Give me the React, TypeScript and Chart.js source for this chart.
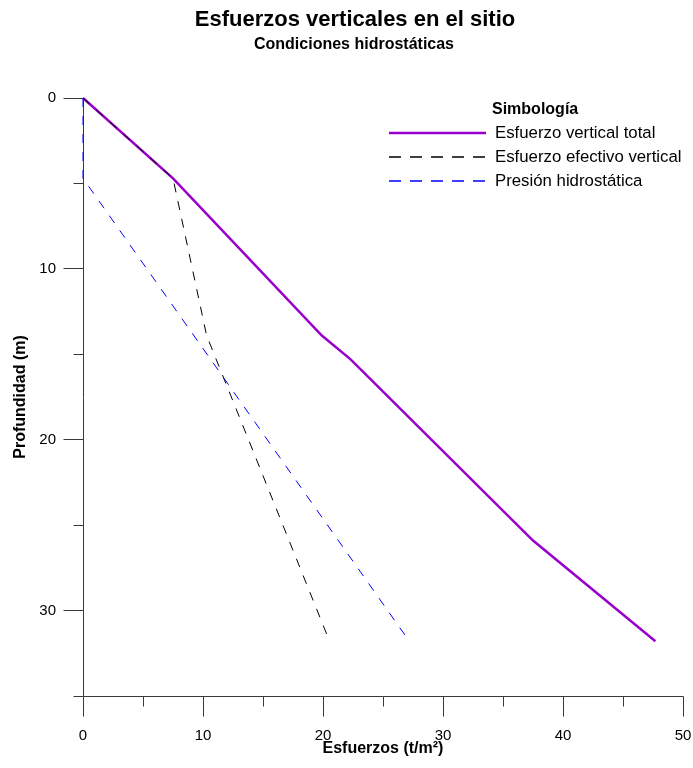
import React, { useEffect, useRef } from 'react';
import { Chart, registerables } from 'chart.js';

Chart.register(...registerables);

const TITLE = 'Esfuerzos verticales en el sitio';
const SUBTITLE = 'Condiciones hidrostáticas';
const X_TITLE = 'Esfuerzos (t/m²)';
const Y_TITLE = 'Profundidad (m)';
const LEGEND_TITLE = 'Simbología';
const SERIES_NAMES = ['Esfuerzo vertical total', 'Esfuerzo efectivo vertical', 'Presión hidrostática'];

// depth (m) and stress (t/m²)
const TOTAL_DEPTH = [0, 4.7, 13.9, 15.3, 25.9, 31.8];
const TOTAL_STRESS = [0, 7.5, 19.9, 22.3, 37.5, 47.7];
const EFFECTIVE_DEPTH = [0, 4.7, 13.9, 31.8];
const EFFECTIVE_STRESS = [0, 7.5, 10.3, 20.55];
const HYDRO_DEPTH = [0, 4.7, 31.8];
const HYDRO_STRESS = [0, 0, 27.2];

const X_MAJOR = [0, 10, 20, 30, 40, 50];
const X_MINOR = [5, 15, 25, 35, 45];
const Y_MAJOR = [0, 10, 20, 30];
const Y_MINOR = [5, 15, 25, 35];

const FONT = "'Liberation Sans', Arial, sans-serif";
const PURPLE = 'rgb(153,0,204)';
const BLUE = 'rgb(0,0,255)';
const BLACK = 'rgb(0,0,0)';
const AXIS_COLOR = '#3a3a3a';
const DASH = [9, 9];
const LEGEND_DASH = [12, 9];

const toPoints = (xs: number[], ys: number[]) => xs.map((v, i) => ({ x: v, y: ys[i] }));

const crisp = (p: number) => Math.floor(p) + 0.5;

const decorPlugin = {
  id: 'decor',
  beforeDatasetsDraw(chart: any) {
    const { ctx, chartArea, scales } = chart;
    const xs = scales.x;
    const ys = scales.y;
    const left = crisp(chartArea.left);
    const bottom = crisp(chartArea.bottom);
    ctx.save();
    ctx.strokeStyle = AXIS_COLOR;
    ctx.lineWidth = 1;
    ctx.beginPath();
    ctx.moveTo(left, crisp(ys.getPixelForValue(0)));
    ctx.lineTo(left, bottom);
    ctx.moveTo(left, bottom);
    ctx.lineTo(crisp(xs.getPixelForValue(50)), bottom);
    X_MAJOR.forEach((v) => {
      const px = crisp(xs.getPixelForValue(v));
      ctx.moveTo(px, bottom);
      ctx.lineTo(px, bottom + 20);
    });
    X_MINOR.forEach((v) => {
      const px = crisp(xs.getPixelForValue(v));
      ctx.moveTo(px, bottom);
      ctx.lineTo(px, bottom + 10);
    });
    Y_MAJOR.forEach((v) => {
      const py = crisp(ys.getPixelForValue(v));
      ctx.moveTo(left - 20, py);
      ctx.lineTo(left, py);
    });
    Y_MINOR.forEach((v) => {
      const py = crisp(ys.getPixelForValue(v));
      ctx.moveTo(left - 10, py);
      ctx.lineTo(left, py);
    });
    ctx.stroke();
    ctx.restore();
  },
  afterDraw(chart: any) {
    const { ctx, chartArea } = chart;
    ctx.save();
    ctx.fillStyle = '#000';
    ctx.textAlign = 'center';
    ctx.textBaseline = 'middle';
    ctx.font = `bold 22px ${FONT}`;
    ctx.fillText(TITLE, 355, 20);
    ctx.font = `bold 16px ${FONT}`;
    ctx.fillText(SUBTITLE, 354, 45);

    ctx.font = `bold 16px ${FONT}`;
    ctx.fillText(X_TITLE, (chartArea.left + chartArea.right) / 2, 749);
    ctx.save();
    ctx.translate(21, (chartArea.top + chartArea.bottom) / 2);
    ctx.rotate(-Math.PI / 2);
    ctx.fillText(Y_TITLE, 0, 0);
    ctx.restore();

    ctx.textAlign = 'left';
    ctx.font = `bold 16px ${FONT}`;
    ctx.fillText(LEGEND_TITLE, 492, 110);
    ctx.font = `16.8px ${FONT}`;
    const rows = [
      { color: PURPLE, width: 2.5, dash: [] as number[] },
      { color: BLACK, width: 1.5, dash: LEGEND_DASH },
      { color: BLUE, width: 1.5, dash: LEGEND_DASH },
    ];
    rows.forEach((r, i) => {
      const yy = 133 + i * 24;
      ctx.save();
      ctx.strokeStyle = r.color;
      ctx.lineWidth = r.width;
      ctx.setLineDash(r.dash);
      ctx.beginPath();
      ctx.moveTo(389, yy);
      ctx.lineTo(486, yy);
      ctx.stroke();
      ctx.restore();
      ctx.fillText(SERIES_NAMES[i], 495, yy);
    });
    ctx.restore();
  },
};

export default function App() {
  const ref = useRef<HTMLCanvasElement>(null);
  useEffect(() => {
    const chart = new Chart(ref.current as HTMLCanvasElement, {
      type: 'scatter',
      data: {
        datasets: [
          {
            label: SERIES_NAMES[2],
            data: toPoints(HYDRO_STRESS, HYDRO_DEPTH),
            showLine: true,
            borderColor: BLUE,
            borderWidth: 1,
            borderDash: DASH,
            pointRadius: 0,
            fill: false,
            clip: false,
          },
          {
            label: SERIES_NAMES[1],
            data: toPoints(EFFECTIVE_STRESS, EFFECTIVE_DEPTH),
            showLine: true,
            borderColor: BLACK,
            borderWidth: 1,
            borderDash: DASH,
            pointRadius: 0,
            fill: false,
            clip: false,
          },
          {
            label: SERIES_NAMES[0],
            data: toPoints(TOTAL_STRESS, TOTAL_DEPTH),
            showLine: true,
            borderColor: PURPLE,
            borderWidth: 2.5,
            pointRadius: 0,
            fill: false,
            clip: false,
          },
        ],
      } as any,
      options: {
        animation: false,
        responsive: false,
        devicePixelRatio: 1,
        layout: { padding: { top: 98, right: 10, left: 0, bottom: 0 } },
        plugins: {
          legend: { display: false },
          tooltip: { enabled: false },
          title: { display: false },
        },
        scales: {
          x: {
            type: 'linear',
            position: 'bottom',
            min: 0,
            max: 50,
            afterFit: (s: any) => {
              s.height = 72;
              s.paddingLeft = 0;
              s.paddingRight = 0;
            },
            afterBuildTicks: (s: any) => {
              s.ticks = X_MAJOR.map((v) => ({ value: v }));
            },
            grid: { display: true, drawOnChartArea: false, drawTicks: true, tickLength: 20, color: 'rgba(0,0,0,0)' },
            border: { display: false },
            ticks: { color: '#000', font: { family: FONT, size: 15 }, padding: 11, maxRotation: 0, autoSkip: false },
          },
          y: {
            type: 'linear',
            position: 'left',
            min: 0,
            max: 35,
            reverse: true,
            afterFit: (s: any) => {
              s.width = 83;
              s.paddingTop = 0;
              s.paddingBottom = 0;
            },
            afterBuildTicks: (s: any) => {
              s.ticks = Y_MAJOR.map((v) => ({ value: v }));
            },
            grid: { display: true, drawOnChartArea: false, drawTicks: true, tickLength: 20, color: 'rgba(0,0,0,0)' },
            border: { display: false },
            ticks: { color: '#000', font: { family: FONT, size: 15 }, padding: 7, autoSkip: false },
          },
        },
      } as any,
      plugins: [decorPlugin],
    });
    return () => chart.destroy();
  }, []);
  return (
    <div style={{ position: 'absolute', left: 0, top: 0, width: 693, height: 768, background: '#fff' }}>
      <canvas ref={ref} width={693} height={768} style={{ display: 'block', width: 693, height: 768 }} />
    </div>
  );
}
